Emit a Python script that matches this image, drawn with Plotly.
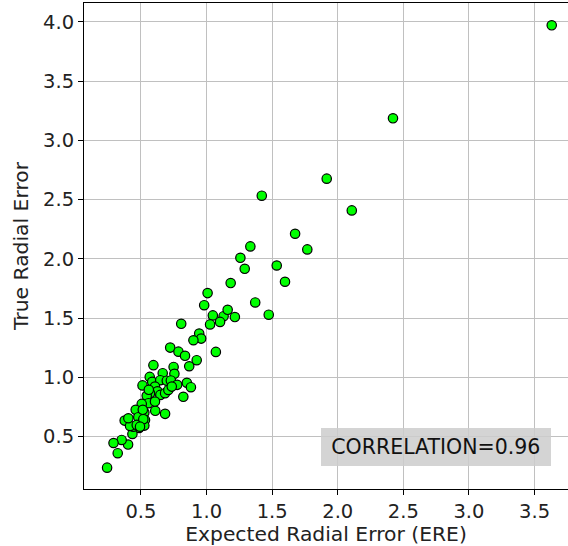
import plotly.graph_objects as go

# Expected Radial Error (x) vs True Radial Error (y)
ere = [3.631, 2.421, 1.916, 1.421, 2.107, 1.675, 1.334, 1.768, 1.258, 1.291,
       1.535, 1.598, 1.474, 1.184, 1.008, 0.982, 1.371, 1.048, 1.130, 1.161,
       1.216, 1.103, 1.027, 0.807, 0.944, 0.959, 0.900, 1.071, 0.723, 0.786,
       0.836, 0.925, 0.868, 0.749, 0.595, 0.666, 0.755, 0.567, 0.512, 0.586,
       0.647, 0.697, 0.728, 0.776, 0.850, 0.881, 0.823, 0.607, 0.626, 0.569,
       0.648, 0.684, 0.709, 0.544, 0.557, 0.609, 0.684, 0.506, 0.526, 0.460,
       0.480, 0.531, 0.526, 0.486, 0.435, 0.442, 0.376, 0.417, 0.402, 0.353,
       0.291, 0.323, 0.242, 0.735, 0.560, 0.607, 0.514, 0.468, 0.518, 0.404,
       0.493]
true_re = [3.971, 3.186, 2.677, 2.533, 2.409, 2.212, 2.105, 2.080, 2.009, 1.916,
           1.944, 1.807, 1.529, 1.796, 1.711, 1.609, 1.632, 1.523, 1.516, 1.570,
           1.509, 1.468, 1.447, 1.452, 1.370, 1.327, 1.313, 1.215, 1.251, 1.217,
           1.182, 1.145, 1.094, 1.088, 1.103, 1.035, 1.030, 1.004, 0.932, 0.962,
           0.976, 0.972, 0.974, 0.937, 0.954, 0.917, 0.836, 0.922, 0.883, 0.867,
           0.852, 0.867, 0.894, 0.844, 0.782, 0.718, 0.692, 0.776, 0.703, 0.726,
           0.664, 0.641, 0.593, 0.573, 0.523, 0.584, 0.635, 0.590, 0.433, 0.472,
           0.446, 0.360, 0.238, 0.922, 0.895, 0.796, 0.726, 0.599, 0.647, 0.655,
           0.584]

x_ticks = [0.5, 1.0, 1.5, 2.0, 2.5, 3.0, 3.5]
y_ticks = [0.5, 1.0, 1.5, 2.0, 2.5, 3.0, 3.5, 4.0]
corr_label = "CORRELATION=0.96"

FONT = "DejaVu Sans"

fig = go.Figure()
fig.add_trace(go.Scatter(
    x=ere, y=true_re, mode="markers",
    marker=dict(color="#00ff00", size=9.4, line=dict(color="black", width=1.2)),
    showlegend=False, hoverinfo="x+y",
))

axis_common = dict(
    showgrid=True, gridcolor="#c0c0c0", gridwidth=1.2,
    zeroline=False, showline=True, linecolor="black", linewidth=1,
    ticks="outside", ticklen=5, tickwidth=1, tickcolor="black",
    tickfont=dict(family=FONT, size=19.5, color="#222222"),
    tickformat=".1f",
)

fig.update_layout(
    width=568, height=546,
    margin=dict(l=84, r=0, t=3, b=57),
    paper_bgcolor="white", plot_bgcolor="white",
    font=dict(family=FONT, color="#222222"),
    xaxis=dict(range=[0.066, 3.755], tickvals=x_ticks, mirror=True,
               title=dict(text="Expected Radial Error (ERE)",
                          font=dict(family=FONT, size=20.3, color="#222222"),
                          standoff=5),
               **axis_common),
    yaxis=dict(range=[0.058, 4.159], tickvals=y_ticks, mirror=False,
               title=dict(text="True Radial Error",
                          font=dict(family=FONT, size=20.3, color="#222222"),
                          standoff=8),
               **axis_common),
)

fig.add_annotation(
    x=0.728, y=0.0855, xref="paper", yref="paper",
    text=corr_label, showarrow=False,
    font=dict(family=FONT, size=20.5, color="#111111"),
    bgcolor="rgba(205,205,205,0.85)", borderpad=8.8, borderwidth=0,
    width=212, height=20, xanchor="center", yanchor="middle",
)

fig.write_html("out.html",
               config={"displayModeBar": False},
               post_script="document.body.style.margin='0';document.body.style.padding='0';")
